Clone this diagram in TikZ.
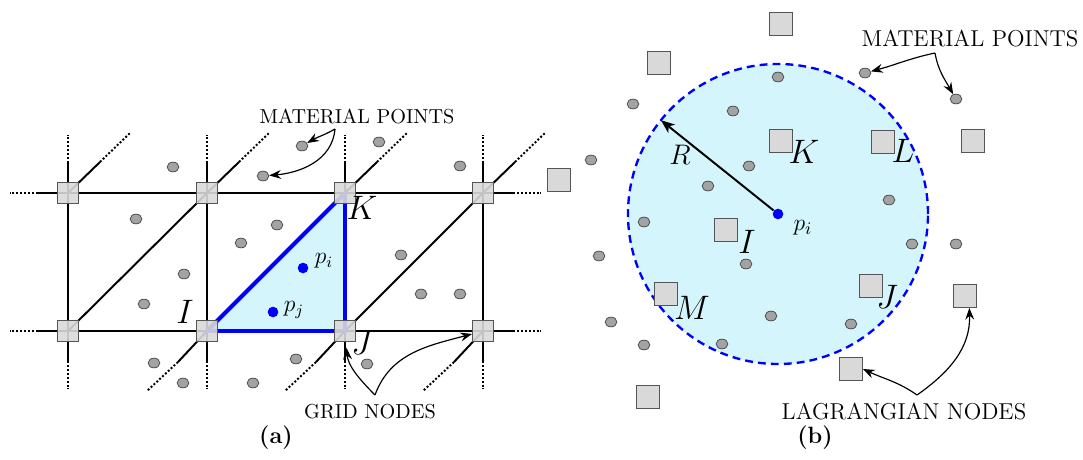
\documentclass[tikz,border=0pt]{standalone}
\usepackage{tikz}
\usepackage{xcolor}
\usetikzlibrary{arrows.meta,backgrounds,calc,shapes.geometric}

\definecolor{cellcyan}{HTML}{D5F5FC}
\definecolor{nodegray}{HTML}{D9D9D9}
\definecolor{ptgray}{HTML}{A3A3A3}
\definecolor{edgegray}{HTML}{555555}

\begin{document}
\begin{tikzpicture}[x=0.0179cm, y=0.0179cm,
  gnode/.style={draw=edgegray, fill=nodegray, fill opacity=0.9, minimum size=0.375cm, inner sep=0pt},
  lnode/.style={draw=edgegray, fill=nodegray, minimum size=0.41cm, inner sep=0pt},
  mpt/.style={ellipse, draw=black!70, fill=ptgray, minimum width=0.21cm, minimum height=0.175cm, inner sep=0pt},
  bpt/.style={circle, fill=blue, minimum size=0.19cm, inner sep=0pt},
  mesh/.style={line width=1pt},
  stub/.style={line width=1pt, densely dotted},
  tri/.style={line width=2pt, blue},
  note/.style={-{Stealth[length=6pt, width=4.5pt, inset=2pt]}, line width=0.6pt},
  capa/.style={font=\fontsize{10.3}{12}\selectfont, inner sep=1pt},
  capb/.style={font=\fontsize{11.7}{13}\selectfont, inner sep=1pt},
  lbla/.style={font=\fontsize{16}{18}\selectfont, inner sep=0pt},
  lblb/.style={font=\fontsize{18}{20}\selectfont, inner sep=0pt}
]
\useasboundingbox (0,0) rectangle (1083,459);

% ---------- (a) mesh ----------
\foreach \n/\x in {1/68, 2/207, 3/345, 4/483} {
  \node[gnode] (t\n) at (\x,266) {};
  \node[gnode] (b\n) at (\x,128) {};
}

\begin{scope}[on background layer]
  \fill[cellcyan] (b2.center) -- (b3.center) -- (t3.center) -- cycle;
  \draw[mesh] (t1.center) -- (t4.center);
  \draw[mesh] (b1.center) -- (b4.center);
  \foreach \n in {1,...,4}
    \draw[mesh] (t\n.center) -- (b\n.center);
  \draw[mesh] (b1.center) -- (t2.center);
  \draw[mesh] (b3.center) -- (t4.center);
  % open ends
  \foreach \n in {1,...,4} {
    \draw[mesh] (t\n.center) -- ++(0,30) coordinate (tu\n);
    \draw[stub] (tu\n) -- ++(0,28);
    \draw[mesh] (t\n.center) -- ++(32,31) coordinate (td\n);
    \draw[stub] (td\n) -- ++(30,29);
    \draw[mesh] (b\n.center) -- ++(0,-30) coordinate (bu\n);
    \draw[stub] (bu\n) -- ++(0,-28);
  }
  \foreach \n in {2,3,4} {
    \draw[mesh] (b\n.center) -- ++(-29,-31) coordinate (bd\n);
    \draw[stub] (bd\n) -- ++(-31,-29);
  }
  \draw[mesh] (t1.center) -- ++(-30,0) coordinate (tl);
  \draw[stub] (tl) -- ++(-28,0);
  \draw[mesh] (b1.center) -- ++(-30,0) coordinate (bl);
  \draw[stub] (bl) -- ++(-28,0);
  \draw[mesh] (t4.center) -- ++(30,0) coordinate (tr);
  \draw[stub] (tr) -- ++(28,0);
  \draw[mesh] (b4.center) -- ++(30,0) coordinate (br);
  \draw[stub] (br) -- ++(28,0);
  \draw[tri] (b2.center) -- (b3.center) -- (t3.center) -- cycle;
\end{scope}

% material points of (a)
\foreach \x/\y [count=\k] in {173/292, 136/240, 241/216, 184/185, 379/317, 460/293,
    277/234, 401/204, 144/155, 154/96, 183/76, 253/76, 296/100, 367/95, 421/165, 460/165}
  \node[mpt] (pa\k) at (\x,\y) {};
\node[mpt] (mpa1) at (302,313) {};
\node[mpt] (mpa2) at (263,283) {};

\node[bpt] (pi) at (303,191) {};
\node[bpt] (pj) at (273,147) {};
\node[font=\fontsize{11.5}{13}\selectfont, inner sep=0pt] (pil) at (324,198) {$p_i$};
\node[font=\fontsize{11.5}{13}\selectfont, inner sep=0pt] (pjl) at (294,149) {$p_j$};

\node[lbla] (la-K) at (362,251) {$K$};
\node[lbla] (la-I) at (185,147) {$I$};
\node[lbla] (la-J) at (362,116) {$J$};

\node[capa] (mpta) at (357,343) {MATERIAL POINTS};
\coordinate (mpta-s) at (335,330);
\draw[note] (mpta-s) to[out=210, in=30] (mpa1);
\draw[note] (mpta-s) to[out=-95, in=5] (mpa2);

\node[capa] (gn) at (370,47) {GRID NODES};
\coordinate (gn-s) at (375,64);
\draw[note, shorten >=3pt] (gn-s) to[out=135, in=-85] (b3);
\draw[note] (gn-s) to[out=70, in=195] (b4);

\node[font=\large\bfseries] (cap-a) at (276,21) {(a)};

% ---------- (b) meshless ----------
\node[bpt] (qi) at (778,245) {};
\begin{scope}[on background layer]
  \fill[cellcyan] (qi.center) circle[radius=2.685cm];
  \draw[blue, line width=1.2pt, dash pattern=on 4pt off 2.6pt] (qi.center) circle[radius=2.685cm];
\end{scope}
\coordinate (rend) at ($(qi.center)+(141.3:2.685cm)$);
\draw[-{Stealth[length=7pt, width=5.5pt, inset=2pt]}, line width=1pt] (qi) -- (rend);
\node[font=\fontsize{15}{17}\selectfont, inner sep=0pt] (rl) at (680,304) {$R$};
\node[font=\fontsize{12.5}{14}\selectfont, inner sep=0pt] (qil) at (803,231) {$p_i$};

\node[lnode] (n1) at (781,435) {};
\node[lnode] (n2) at (659,396) {};
\node[lnode] (n3) at (559,279) {};
\node[lnode] (nK) at (781,318) {};
\node[lnode] (nL) at (883,317) {};
\node[lnode] (n4) at (973,318) {};
\node[lnode] (nI) at (726,229) {};
\node[lnode] (nM) at (666,165) {};
\node[lnode] (n5) at (648,62) {};
\node[lnode] (nJ) at (871,173) {};
\node[lnode] (n6) at (965,163) {};
\node[lnode] (n7) at (851,90) {};

\node[lblb] (lb-K) at (804,307) {$K$};
\node[lblb] (lb-L) at (903,308) {$L$};
\node[lblb] (lb-I) at (747,217) {$I$};
\node[lblb] (lb-M) at (692,151) {$M$};
\node[lblb] (lb-J) at (887,162) {$J$};

% material points of (b)
\foreach \x/\y [count=\k] in {778/382, 733/348, 633/355, 591/299, 749/293, 708/273,
    644/237, 889/259, 599/203, 746/195, 611/137, 644/114, 722/115, 771/143,
    912/215, 956/215, 851/135}
  \node[mpt] (pb\k) at (\x,\y) {};
\node[mpt] (mpb1) at (865,386) {};
\node[mpt] (mpb2) at (956,360) {};

\node[capb] (mptb) at (970,420) {MATERIAL POINTS};
\coordinate (mptb-s) at (935,406);
\draw[note] (mptb-s) to[out=192, in=15] (mpb1);
\draw[note] (mptb-s) to[out=-80, in=120] (mpb2);

\node[capb] (ln) at (904,47) {LAGRANGIAN NODES};
\coordinate (ln-s) at (917,64);
\draw[note] (ln-s) to[out=145, in=-25] (n7.east);
\draw[note] (ln-s) to[out=35, in=-88] (n6.-70);

\node[font=\large\bfseries] (cap-b) at (815,21) {(b)};
\end{tikzpicture}
\end{document}
